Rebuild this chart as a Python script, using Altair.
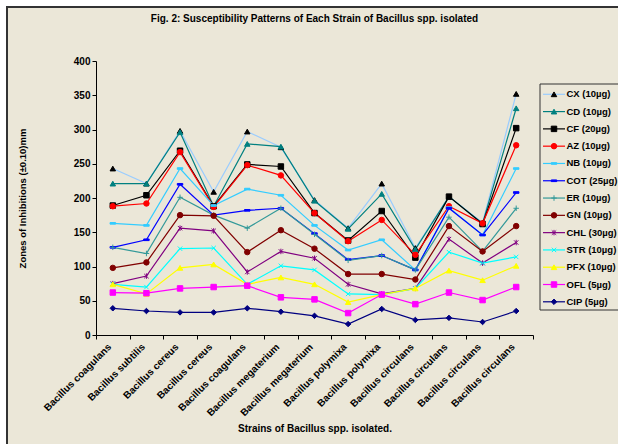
import altair as alt
import pandas as pd

categories = ["Bacillus coagulans", "Bacillus subtilis", "Bacillus cereus", "Bacillus cereus",
              "Bacillus coagulans", "Bacillus megaterium", "Bacillus megaterium", "Bacillus polymixa",
              "Bacillus polymixa", "Bacillus circulans", "Bacillus circulans", "Bacillus circulans",
              "Bacillus circulans"]

series_names = ["CX (10µg)", "CD (10µg)", "CF (20µg)", "AZ (10µg)", "NB (10µg)", "COT (25µg)",
                "ER (10µg)", "GN (10µg)", "CHL (30µg)", "STR (10µg)", "PFX (10µg)", "OFL (5µg)",
                "CIP (5µg)"]

CX = [243, 221, 298, 209, 297, 274, 197, 156, 221, 127, 202, 164, 352]
CD = [221, 221, 296, 188, 279, 275, 196, 155, 206, 125, 202, 163, 331]
CF = [189, 204, 269, 188, 249, 246, 178, 138, 181, 113, 202, 162, 302]
AZ = [188, 192, 267, 187, 248, 233, 178, 137, 168, 117, 188, 163, 277]
NB = [163, 160, 243, 189, 213, 204, 160, 124, 139, 95, 186, 146, 243]
COT = [128, 139, 220, 175, 182, 185, 148, 110, 116, 95, 185, 146, 208]
ER = [128, 119, 201, 175, 156, 185, 147, 109, 116, 95, 172, 122, 185]
GN = [98, 106, 175, 174, 121, 153, 126, 89, 89, 81, 159, 122, 159]
CHL = [75, 86, 156, 152, 92, 122, 112, 74, 60, 68, 140, 105, 135]
STR = [74, 70, 126, 127, 74, 101, 95, 60, 59, 68, 121, 105, 114]
PFX = [74, 60, 98, 103, 74, 84, 74, 48, 59, 68, 94, 80, 101]
OFL = [62, 61, 68, 70, 72, 55, 52, 32, 59, 45, 62, 51, 70]
CIP = [39, 35, 33, 33, 39, 34, 28, 16, 38, 22, 25, 19, 35]

all_values = [CX, CD, CF, AZ, NB, COT, ER, GN, CHL, STR, PFX, OFL, CIP]

line_colors = ["#99CCFF", "#008080", "#000000", "#FF0000", "#33CCFF", "#0000FF", "#339999",
               "#800000", "#800080", "#00FFFF", "#FFFF00", "#FF00FF", "#000080"]
marker_colors = ["#000000", "#008080", "#000000", "#FF0000", "#33CCFF", "#0000FF", "#339999",
                 "#800000", "#800080", "#00FFFF", "#FFFF00", "#FF00FF", "#000080"]

DASH = "M-1,-0.3H1V0.3H-1Z"
PLUS = "M-1,0H1M0,-1V1"
XMARK = "M-0.8,-0.8L0.8,0.8M-0.8,0.8L0.8,-0.8"
STAR = "M-0.8,-0.8L0.8,0.8M-0.8,0.8L0.8,-0.8M0,-1V1"
shapes = ["triangle-up", "triangle-up", "square", "circle", DASH, DASH, PLUS, "circle", STAR,
          XMARK, "triangle-up", "square", "diamond"]

rows = []
for name, vals in zip(series_names, all_values):
    for i, v in enumerate(vals):
        rows.append({"idx": i, "series": name, "value": v})
df = pd.DataFrame(rows)
leg_df = pd.DataFrame({"series": series_names})

FONT = "Liberation Sans"
BG = "#EBE7D8"

label_expr = "[" + ",".join("'" + c + "'" for c in categories) + "][datum.value]"

x_axis = alt.Axis(labelExpr=label_expr, labelAngle=-45, labelAlign="right",
                  labelBaseline="top", tickBand="extent", tickSize=4,
                  labelPadding=2.5, labelOffset=-7, labelFontSize=10,
                  labelFontWeight="bold",
                  labelFont=FONT, labelColor="#000", domainColor="#000",
                  tickColor="#000", labelOverlap=False,
                  title="Strains of Bacillus spp. isolated.",
                  titleFont=FONT, titleFontSize=10, titleFontWeight="bold",
                  titleColor="#000", titleX=218.5, titleY=93,
                  titleBaseline="middle", titleAlign="center", grid=False, zindex=2)
y_axis = alt.Axis(values=list(range(0, 401, 50)), tickSize=4, labelPadding=2,
                  labelFontSize=10, labelFontWeight="bold", labelFont=FONT,
                  labelColor="#000", domainColor="#000", tickColor="#000",
                  labelOverlap=False, tickCount=9,
                  title="Zones of Inhibitions (±0.10)mm", titleFont=FONT,
                  titleFontSize=9.5, titleFontWeight="bold", titleColor="#000",
                  titleX=-74, titleY=137, titleAngle=270, titleBaseline="middle",
                  titleAlign="center", grid=False, zindex=2)

x_enc = alt.X("idx:O", bandPosition=0.5,
              scale=alt.Scale(type="band", paddingInner=0, paddingOuter=0), axis=x_axis)
y_enc = alt.Y("value:Q", scale=alt.Scale(domain=[0, 400], nice=False), axis=y_axis)

line_scale = alt.Scale(domain=series_names, range=line_colors)
mark_scale = alt.Scale(domain=series_names, range=marker_colors)
shape_scale = alt.Scale(domain=series_names, range=shapes)

one = alt.Data(values=[{"k": 1}])

bg = alt.Chart(one).mark_rect(fill=BG, stroke="#333333", strokeWidth=2).encode(
    x=alt.value(-89), x2=alt.value(560), y=alt.value(-54), y2=alt.value(420))

lines = alt.Chart(df).mark_line(strokeWidth=1.2).encode(
    x=x_enc, y=y_enc,
    color=alt.Color("series:N", scale=line_scale, legend=None),
    order=alt.Order("idx:Q"))

points = alt.Chart(df).mark_point(size=30, strokeWidth=1, opacity=1).encode(
    x=x_enc, y=y_enc,
    shape=alt.Shape("series:N", scale=shape_scale, legend=None),
    fill=alt.Fill("series:N", scale=mark_scale, legend=None),
    stroke=alt.Stroke("series:N", scale=mark_scale, legend=None))

main = alt.layer(bg, lines, points)

leg_y = alt.Y("series:N", scale=alt.Scale(type="point", domain=series_names,
                                          range=[33.3, 240.8], padding=0), axis=None)

leg_box = alt.Chart(one).mark_rect(fill=BG, stroke="#333333", strokeWidth=1).encode(
    x=alt.value(444), x2=alt.value(540), y=alt.value(23), y2=alt.value(249))
leg_rules = alt.Chart(leg_df).mark_rule(strokeWidth=1.2).encode(
    y=leg_y, x=alt.value(447), x2=alt.value(469),
    color=alt.Color("series:N", scale=line_scale, legend=None))
leg_points = alt.Chart(leg_df).mark_point(size=30, strokeWidth=1, opacity=1).encode(
    y=leg_y, x=alt.value(458),
    shape=alt.Shape("series:N", scale=shape_scale, legend=None),
    fill=alt.Fill("series:N", scale=mark_scale, legend=None),
    stroke=alt.Stroke("series:N", scale=mark_scale, legend=None))
leg_text = alt.Chart(leg_df).mark_text(align="left", baseline="middle", font=FONT,
                                       fontSize=9.5, fontWeight="bold", color="#000").encode(
    y=leg_y, x=alt.value(470.5), text="series:N")

legend = alt.layer(leg_box, leg_rules, leg_points, leg_text)

chart = alt.layer(main, legend).resolve_scale(y="independent").properties(
    width=437, height=274,
    title=alt.TitleParams("Fig. 2: Susceptibility Patterns of Each Strain of Bacillus spp. isolated",
                          font=FONT, fontSize=10, fontWeight="bold", color="#000",
                          anchor="middle", frame="group", baseline="middle", offset=-23,
                          zindex=2),
    autosize=alt.AutoSizeParams(type="none"),
    padding={"left": 96, "top": 61, "right": 85, "bottom": 109},
    background="white",
).configure_view(stroke=None)

chart.save("out.html", embed_options={"renderer": "svg", "actions": False})
